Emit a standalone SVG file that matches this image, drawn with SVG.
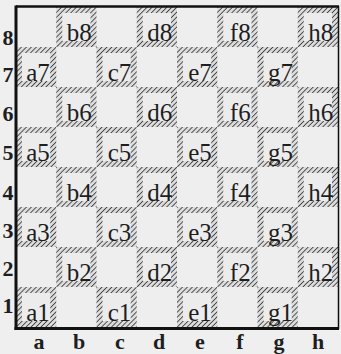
<svg xmlns="http://www.w3.org/2000/svg" width="341" height="354" viewBox="0 0 341 354">
<style>
.hat{fill:url(#h)}
.in{fill:#ececec}
.sq{font-family:"Liberation Serif",serif;font-size:25px;fill:#1e1e1e;text-anchor:middle}
.lab{font-family:"Liberation Serif",serif;font-size:22px;font-weight:bold;fill:#1e1e1e;text-anchor:middle}
</style>
<defs>
<pattern id="h" width="3.5" height="3.5" patternUnits="userSpaceOnUse" patternTransform="rotate(45)">
<rect width="3.5" height="3.5" fill="#dcdcdc"/>
<line x1="0" y1="0" x2="0" y2="3.5" stroke="#333" stroke-width="1.6"/>
</pattern>
<g id="d"><rect class="hat" width="40.25" height="40"/><rect class="in" x="6" y="6" width="28.25" height="28"/></g>
</defs>
<rect width="341" height="354" fill="#efefef"/>
<g id="board">
<rect x="16" y="7" width="322" height="321" fill="#eeeeee"/>
</g>
<g id="squares">
<g id="b8" transform="translate(56.25,7)"><use href="#d"/><text class="sq" x="23" y="34">b8</text></g>
<g id="d8" transform="translate(136.75,7)"><use href="#d"/><text class="sq" x="23" y="34">d8</text></g>
<g id="f8" transform="translate(217.25,7)"><use href="#d"/><text class="sq" x="23" y="34">f8</text></g>
<g id="h8" transform="translate(297.75,7)"><use href="#d"/><text class="sq" x="23" y="34">h8</text></g>
<g id="a7" transform="translate(16,47)"><use href="#d"/><text class="sq" x="22" y="34">a7</text></g>
<g id="c7" transform="translate(96.5,47)"><use href="#d"/><text class="sq" x="23" y="34">c7</text></g>
<g id="e7" transform="translate(177,47)"><use href="#d"/><text class="sq" x="23" y="34">e7</text></g>
<g id="g7" transform="translate(257.5,47)"><use href="#d"/><text class="sq" x="23" y="34">g7</text></g>
<g id="b6" transform="translate(56.25,87)"><use href="#d"/><text class="sq" x="23" y="34">b6</text></g>
<g id="d6" transform="translate(136.75,87)"><use href="#d"/><text class="sq" x="23" y="34">d6</text></g>
<g id="f6" transform="translate(217.25,87)"><use href="#d"/><text class="sq" x="23" y="34">f6</text></g>
<g id="h6" transform="translate(297.75,87)"><use href="#d"/><text class="sq" x="23" y="34">h6</text></g>
<g id="a5" transform="translate(16,127)"><use href="#d"/><text class="sq" x="22" y="34">a5</text></g>
<g id="c5" transform="translate(96.5,127)"><use href="#d"/><text class="sq" x="23" y="34">c5</text></g>
<g id="e5" transform="translate(177,127)"><use href="#d"/><text class="sq" x="23" y="34">e5</text></g>
<g id="g5" transform="translate(257.5,127)"><use href="#d"/><text class="sq" x="23" y="34">g5</text></g>
<g id="b4" transform="translate(56.25,167)"><use href="#d"/><text class="sq" x="23" y="34">b4</text></g>
<g id="d4" transform="translate(136.75,167)"><use href="#d"/><text class="sq" x="23" y="34">d4</text></g>
<g id="f4" transform="translate(217.25,167)"><use href="#d"/><text class="sq" x="23" y="34">f4</text></g>
<g id="h4" transform="translate(297.75,167)"><use href="#d"/><text class="sq" x="23" y="34">h4</text></g>
<g id="a3" transform="translate(16,207)"><use href="#d"/><text class="sq" x="22" y="34">a3</text></g>
<g id="c3" transform="translate(96.5,207)"><use href="#d"/><text class="sq" x="23" y="34">c3</text></g>
<g id="e3" transform="translate(177,207)"><use href="#d"/><text class="sq" x="23" y="34">e3</text></g>
<g id="g3" transform="translate(257.5,207)"><use href="#d"/><text class="sq" x="23" y="34">g3</text></g>
<g id="b2" transform="translate(56.25,247)"><use href="#d"/><text class="sq" x="23" y="34">b2</text></g>
<g id="d2" transform="translate(136.75,247)"><use href="#d"/><text class="sq" x="23" y="34">d2</text></g>
<g id="f2" transform="translate(217.25,247)"><use href="#d"/><text class="sq" x="23" y="34">f2</text></g>
<g id="h2" transform="translate(297.75,247)"><use href="#d"/><text class="sq" x="23" y="34">h2</text></g>
<g id="a1" transform="translate(16,287)"><use href="#d"/><text class="sq" x="22" y="34">a1</text></g>
<g id="c1" transform="translate(96.5,287)"><use href="#d"/><text class="sq" x="23" y="34">c1</text></g>
<g id="e1" transform="translate(177,287)"><use href="#d"/><text class="sq" x="23" y="34">e1</text></g>
<g id="g1" transform="translate(257.5,287)"><use href="#d"/><text class="sq" x="23" y="34">g1</text></g>
</g>
<g id="frame" fill="none" stroke="#111">
<line x1="16" y1="6.5" x2="339" y2="6.5" stroke-width="2.5"/>
<line x1="16" y1="5.5" x2="16" y2="330" stroke-width="3"/>
<line x1="14.5" y1="328.5" x2="339" y2="328.5" stroke-width="3"/>
<line x1="338.5" y1="6" x2="338.5" y2="329" stroke-width="1.5"/>
</g>
<g id="ranks">
<text class="lab" x="8" y="45">8</text>
<text class="lab" x="8" y="82">7</text>
<text class="lab" x="8" y="121">6</text>
<text class="lab" x="8" y="160">5</text>
<text class="lab" x="8" y="200">4</text>
<text class="lab" x="8" y="238">3</text>
<text class="lab" x="8" y="276">2</text>
<text class="lab" x="8" y="313">1</text>
</g>
<g id="files">
<text class="lab" x="39" y="349">a</text>
<text class="lab" x="79" y="349">b</text>
<text class="lab" x="120" y="349">c</text>
<text class="lab" x="159" y="349">d</text>
<text class="lab" x="200" y="349">e</text>
<text class="lab" x="240" y="349">f</text>
<text class="lab" x="279" y="349">g</text>
<text class="lab" x="318" y="349">h</text>
</g>
</svg>
